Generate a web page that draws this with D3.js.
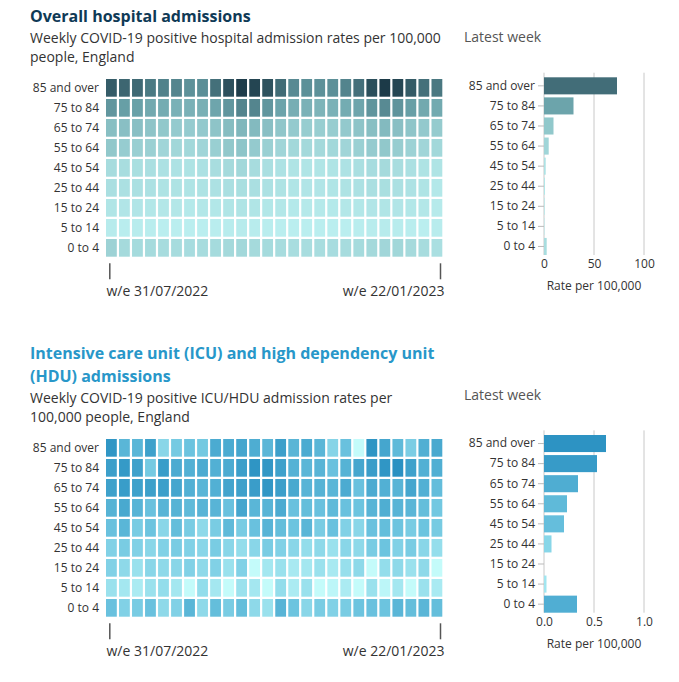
<!DOCTYPE html>
<html>
<head>
<meta charset="utf-8">
<script src="https://cdn.jsdelivr.net/npm/d3@7"></script>
<style>
  body { margin: 0; background: #fff; }
  svg { font-family: "Open Sans", sans-serif; }
  .title { font-size: 16px; font-weight: 700; }
  .subtitle { font-size: 14px; fill: #333; }
  .latest { font-size: 14px; fill: #555; }
  .tick text { font-family: "Open Sans", sans-serif; font-size: 12px; fill: #333; }
  .date-axis .tick text { font-size: 14px; }
</style>
</head>
<body>
<svg id="chart" width="679" height="682"></svg>
<script>
const weekEnding = [
  "2022-07-31", "2022-08-07", "2022-08-14", "2022-08-21", "2022-08-28", "2022-09-04",
  "2022-09-11", "2022-09-18", "2022-09-25", "2022-10-02", "2022-10-09", "2022-10-16",
  "2022-10-23", "2022-10-30", "2022-11-06", "2022-11-13", "2022-11-20", "2022-11-27",
  "2022-12-04", "2022-12-11", "2022-12-18", "2022-12-25", "2023-01-01", "2023-01-08",
  "2023-01-15", "2023-01-22"
];

const ageGroups = ["85 and over", "75 to 84", "65 to 74", "55 to 64", "45 to 54",
  "25 to 44", "15 to 24", "5 to 14", "0 to 4"];

// one row per age group, one value per week (rate per 100,000)
const hospitalRates = [
  [104, 92, 89, 71, 63, 60, 49, 51, 81, 119, 145, 134, 117, 86, 55, 50, 49, 50, 61, 82, 121, 150, 133, 106, 81, 73],
  [45, 38, 37, 30, 28, 24, 24, 25, 33, 45, 60, 60, 45, 34, 26, 24, 22, 24, 28, 33, 46, 55, 47, 38, 30, 29.5],
  [15.6, 15.1, 15.1, 12.7, 10.9, 9.7, 9.3, 10.1, 12.7, 16.6, 20, 18.3, 15.1, 11.8, 9.7, 8.5, 8.1, 8.5, 10.1, 12.7, 15.6, 18.3, 15.1, 12.3, 10.1, 9.5],
  [10.9, 8.9, 7.8, 7.4, 5.4, 4.9, 4.6, 5.4, 7.8, 10.9, 12.3, 9.7, 7.4, 5.4, 4.6, 4.3, 4.3, 4.6, 5.4, 7.4, 9.3, 10.9, 8.5, 6.7, 5.4, 4.7],
  [3.5, 3.1, 2.8, 2.6, 2.2, 2.0, 1.9, 2.2, 3.1, 4.0, 4.6, 3.5, 2.6, 2.0, 1.7, 1.5, 1.5, 1.7, 2.0, 2.6, 3.3, 4.0, 3.1, 2.4, 1.9, 1.7],
  [2.6, 2.4, 2.4, 2.2, 1.9, 1.9, 1.7, 1.9, 2.2, 2.6, 2.8, 2.6, 2.2, 1.9, 1.5, 1.4, 1.4, 1.5, 1.9, 2.2, 2.6, 2.8, 2.4, 2.0, 1.7, 1.0],
  [1.5, 1.4, 1.4, 1.2, 1.1, 1.1, 0.9, 1.1, 1.2, 1.5, 1.7, 1.5, 1.2, 1.1, 0.9, 0.8, 0.8, 0.9, 1.1, 1.2, 1.4, 1.5, 1.4, 1.2, 1.1, 0.7],
  [0.6, 0.4, 0.5, 0.4, 0.3, 0.3, 0.3, 0.3, 0.4, 0.5, 0.6, 0.5, 0.4, 0.3, 0.3, 0.3, 0.3, 0.3, 0.3, 0.4, 0.5, 0.6, 0.5, 0.4, 0.3, 0.5],
  [6.4, 4.0, 3.8, 3.8, 3.5, 3.5, 3.3, 3.5, 3.8, 4.3, 4.6, 4.0, 3.8, 3.5, 3.1, 3.1, 3.1, 3.3, 3.5, 3.8, 4.3, 5.1, 4.9, 4.0, 3.5, 2.7]
];
const hospitalLatest = [73, 29.5, 9.5, 4.7, 1.7, 1.0, 0.7, 0.5, 2.7];

const icuRates = [
  [.95, .43, .43, .75, .12, .21, .27, .22, .59, .59, .66, .55, .42, .79, .44, .59, .43, .13, .29, 0, .97, .66, .38, .18, .52, .62],
  [.79, .88, .74, .21, .82, .58, .51, .58, .51, .58, .79, .97, .93, .75, .48, .42, .45, .29, .47, .66, .81, .95, 1.05, .75, .51, .53],
  [.75, .82, .75, .77, .79, .66, .51, .43, .51, .69, .74, .81, .93, .79, .62, .45, .47, .43, .58, .29, .58, .51, .45, .66, .51, .34],
  [.47, .62, .45, .29, .45, .47, .38, .45, .45, .29, .66, .43, .45, .58, .29, .33, .29, .38, .29, .26, .45, .54, .45, .43, .33, .23],
  [.29, .43, .19, .26, .12, .33, .19, .10, .19, .38, .19, .29, .45, .33, .26, .43, .19, .29, .15, .12, .29, .33, .26, .19, .26, .20],
  [.15, .19, .15, .12, .15, .19, .15, .12, .19, .12, .08, .12, .19, .15, .12, .08, .10, .06, .12, .10, .19, .26, .15, .19, .12, .075],
  [.15, .10, .06, .12, .10, .12, .15, .10, .15, .06, .15, 0, .034, .06, .027, .034, .06, .027, .07, .10, 0, .08, .10, .06, .10, 0],
  [.06, .034, .022, .06, .08, .034, 0, .08, .034, 0, .06, .034, 0, .08, .022, .06, 0, .002, .022, 0, .06, .002, .034, 0, .06, .025],
  [.29, .15, .19, .29, .10, .15, .43, .10, .33, .19, .33, .10, .06, .45, .26, .12, .19, .15, .19, .26, .29, .26, .43, .33, .43, .33]
];
const icuLatest = [0.62, 0.53, 0.34, 0.23, 0.20, 0.075, 0, 0.025, 0.33];

const hospitalTicks = [0, 50, 100];
const icuTicks = [0, 0.5, 1.0];

const svg = d3.select("#chart");
const parseDate = d3.utcParse("%Y-%m-%d");

function drawPanel(p) {
  const g = svg.append("g");

  // Titles
  p.title.forEach((line, i) => {
    g.append("text").attr("class", "title")
      .attr("x", 30).attr("y", p.titleY + i * 22.4)
      .attr("fill", p.titleColour).text(line);
  });
  p.subtitle.forEach((line, i) => {
    g.append("text").attr("class", "subtitle")
      .attr("x", 30).attr("y", p.subY + i * 19.3).text(line);
  });
  g.append("text").attr("class", "latest")
    .attr("x", 464).attr("y", p.latestY).text("Latest week");

  // Heatmap
  const x = d3.scaleBand().domain(weekEnding).range([106, 442.3]).paddingInner(0.17);
  const y = d3.scaleBand().domain(ageGroups).range([p.heatY, p.heatY + 177.7]).paddingInner(0.115);
  const interp = d3.piecewise(d3.interpolateRgb, p.colours);
  const colour = d3.scaleSequentialSqrt(interp).domain([0, d3.max(p.rates.flat())]);

  const cells = p.rates.flatMap((row, i) => row.map((v, j) => ({ age: ageGroups[i], week: weekEnding[j], v })));

  g.selectAll(".cell")
    .data(cells)
    .join("rect")
    .attr("class", "cell")
    .attr("x", d => x(d.week))
    .attr("y", d => y(d.age))
    .attr("width", x.bandwidth())
    .attr("height", y.bandwidth())
    .attr("fill", d => colour(d.v));

  g.append("g")
    .attr("transform", "translate(106,0)")
    .call(d3.axisLeft(y).tickSize(0).tickPadding(7))
    .call(a => a.select(".domain").remove());

  // Date axis: first and last week only
  const t = d3.scaleUtc()
    .domain([parseDate(weekEnding[0]), parseDate(weekEnding[weekEnding.length - 1])])
    .range([109.3, 440]);
  const dateAxis = g.append("g")
    .attr("class", "date-axis")
    .attr("transform", `translate(0,${p.heatY + 184.3})`)
    .call(d3.axisBottom(t).tickValues(t.domain()).tickSize(16).tickPadding(7)
      .tickFormat(d3.utcFormat("w/e %d/%m/%Y")));
  dateAxis.select(".domain").remove();
  dateAxis.selectAll(".tick line").attr("stroke", "#555").attr("stroke-width", 1.5);
  dateAxis.selectAll(".tick text")
    .attr("text-anchor", (d, i) => i === 0 ? "start" : "end")
    .attr("dx", (d, i) => i === 0 ? -3.3 : 4);

  // Latest week bars
  const xb = d3.scaleLinear().domain([0, p.ticks[p.ticks.length - 1]]).range([544, 644]);
  const yb = d3.scaleBand().domain(ageGroups).range([p.barY, p.barY + 177.7]).paddingInner(0.15);
  const barColour = d3.scaleSequentialSqrt(interp).domain([0, p.barColourMax]);

  g.selectAll(".grid")
    .data(p.ticks)
    .join("line")
    .attr("class", "grid")
    .attr("x1", d => xb(d)).attr("x2", d => xb(d))
    .attr("y1", p.barY - 4.6).attr("y2", p.barY + 177.7)
    .attr("stroke", "#c8c8c8");

  g.selectAll(".bar")
    .data(p.latest)
    .join("rect")
    .attr("class", "bar")
    .attr("x", xb(0))
    .attr("y", (d, i) => yb(ageGroups[i]))
    .attr("width", d => xb(d) - xb(0))
    .attr("height", yb.bandwidth())
    .attr("fill", d => barColour(d));

  const barAxis = g.append("g")
    .attr("transform", "translate(544,0)")
    .call(d3.axisLeft(yb).tickSize(6).tickPadding(3));
  barAxis.select(".domain").remove();
  barAxis.selectAll(".tick line").attr("stroke", "#bbb");

  const valAxis = g.append("g")
    .attr("transform", `translate(0,${p.barY + 182})`)
    .call(d3.axisBottom(xb).tickValues(p.ticks).tickSize(0).tickPadding(0).tickFormat(p.format));
  valAxis.select(".domain").remove();

  g.append("text")
    .attr("x", 594).attr("y", p.barY + 212.7)
    .attr("text-anchor", "middle")
    .attr("font-size", 12).attr("fill", "#333")
    .text("Rate per 100,000");
}

drawPanel({
  title: ["Overall hospital admissions"],
  titleColour: "#0f3a56",
  titleY: 22,
  subtitle: ["Weekly COVID-19 positive hospital admission rates per 100,000", "people, England"],
  subY: 43,
  latestY: 42,
  heatY: 79,
  barY: 77.3,
  rates: hospitalRates,
  latest: hospitalLatest,
  ticks: hospitalTicks,
  format: d3.format("d"),
  colours: ["#c2f6f6", "#68a0a7", "#1c3a48"],
  barColourMax: 130
});

drawPanel({
  title: ["Intensive care unit (ICU) and high dependency unit", "(HDU) admissions"],
  titleColour: "#2897c9",
  titleY: 359.3,
  subtitle: ["Weekly COVID-19 positive ICU/HDU admission rates per", "100,000 people, England"],
  subY: 402.7,
  latestY: 400,
  heatY: 439,
  barY: 435,
  rates: icuRates,
  latest: icuLatest,
  ticks: icuTicks,
  format: d3.format(".1f"),
  colours: ["#c4fbfa", "#6cc4df", "#2a91c2"],
  barColourMax: 0.65
});
</script>
</body>
</html>
